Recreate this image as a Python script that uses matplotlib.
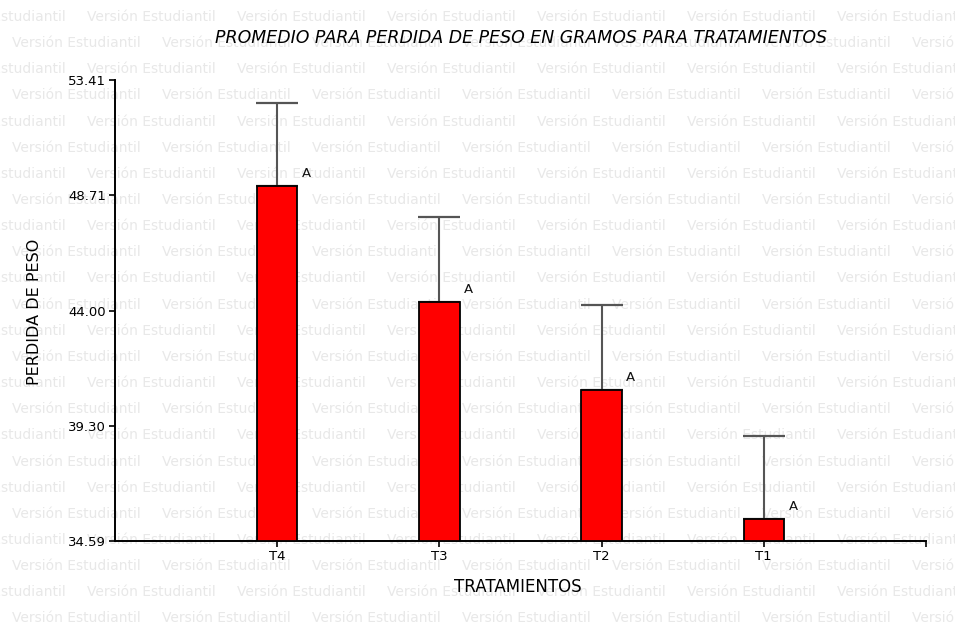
#!/usr/bin/env python3
"""
Bar chart: promedio de perdida de peso por tratamiento
"""

import matplotlib
matplotlib.use("Agg")
import matplotlib.pyplot as plt
import numpy as np

# Datos
tratamientos = ['T4', 'T3', 'T2', 'T1']
medias = [49.08, 44.35, 40.75, 35.49]
errores = [3.39, 3.46, 3.47, 3.39]
grupos = ['A', 'A', 'A', 'A']
y_ticks = [34.59, 39.30, 44.00, 48.71, 53.41]

marca_agua = 'Versión Estudiantil'


def crear_grafico():
    fig = plt.figure(figsize=(9.55, 6.26), dpi=100)
    fig.patch.set_facecolor('white')

    # marca de agua de fondo, filas alternadas
    W, H = 955.0, 626.0
    paso_x, paso_y = 150.0, 26.15
    for fila in range(25):
        y = 17 + fila * paso_y
        x0 = -63 if fila % 2 == 0 else 12
        x = x0
        while x < W:
            fig.text(x / W, 1 - y / H, marca_agua, fontsize=10,
                     color='#e8e8e8', ha='left', va='center', zorder=-5)
            x += paso_x

    ax = fig.add_axes([115 / W, 1 - 541 / H, (926 - 115) / W, (541 - 80) / H])
    ax.patch.set_visible(False)

    x = np.arange(1, len(tratamientos) + 1)

    # barras de error solo hacia arriba
    ax.errorbar(x, medias, yerr=[np.zeros(len(errores)), errores], fmt='none',
                ecolor='#555555', elinewidth=1.5, capsize=14.8, capthick=1.6,
                zorder=2)
    ax.bar(x, medias - np.array(y_ticks[0]), bottom=y_ticks[0], width=0.25,
           color='#ff0000', edgecolor='black', linewidth=1.3, zorder=3)

    for xi, m, g in zip(x, medias, grupos):
        ax.annotate(g, (xi, m), xytext=(21, 9), textcoords='offset points',
                    ha='center', va='center', fontsize=9.5, color='#111111')

    ax.set_xlim(0, 5)
    ax.set_ylim(y_ticks[0], y_ticks[-1])
    ax.set_xticks(x)
    ax.set_xticklabels(tratamientos, fontsize=9.5)
    ax.set_xticks([5], minor=True)
    ax.set_yticks(y_ticks)
    ax.set_yticklabels(['%.2f' % v for v in y_ticks], fontsize=9.5)

    for s in ['top', 'right']:
        ax.spines[s].set_visible(False)
    for s in ['left', 'bottom']:
        ax.spines[s].set_linewidth(1.4)
        ax.spines[s].set_color('black')
    ax.tick_params(axis='both', which='both', direction='out', length=4,
                   width=1.2, colors='black', pad=2.5)

    fig.text(521 / W, 1 - 38 / H,
             'PROMEDIO PARA PERDIDA DE PESO EN GRAMOS PARA TRATAMIENTOS',
             ha='center', va='center', fontsize=12.5, style='italic',
             color='black')
    fig.text(35 / W, 1 - 312 / H, 'PERDIDA DE PESO', rotation=90,
             ha='center', va='center', fontsize=11.5, color='black')
    fig.text(518 / W, 1 - 587 / H, 'TRATAMIENTOS', ha='center', va='center',
             fontsize=12, color='black')

    fig.savefig('out.png', dpi=100)


if __name__ == "__main__":
    crear_grafico()
